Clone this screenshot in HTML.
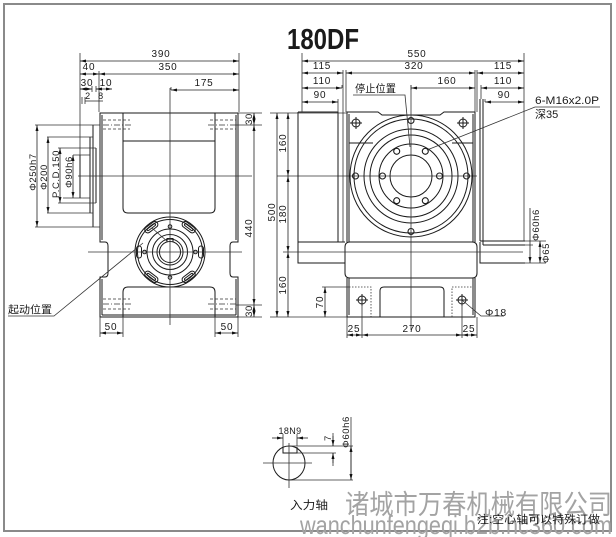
<!DOCTYPE html>
<html><head><meta charset="utf-8"><style>
html,body{margin:0;padding:0;background:#fff;}
svg{display:block;}
text{font-family:"Liberation Sans","Noto Sans CJK SC",sans-serif;fill:#1a1a1a;}
.t{font-size:10px;letter-spacing:0.8px;text-anchor:middle;}
.r{font-size:9.5px;letter-spacing:0.6px;text-anchor:middle;}
</style></head><body>
<svg width="616" height="537" viewBox="0 0 616 537" xmlns="http://www.w3.org/2000/svg">
<defs>
<marker id="e" markerWidth="6" markerHeight="3" refX="6" refY="1.5" orient="auto" markerUnits="userSpaceOnUse"><path d="M0,0L6,1.5L0,3z" fill="#111"/></marker>
<marker id="s" markerWidth="6" markerHeight="3" refX="0" refY="1.5" orient="auto" markerUnits="userSpaceOnUse"><path d="M6,0L0,1.5L6,3z" fill="#111"/></marker>
</defs>
<rect x="4" y="4" width="607" height="527" fill="none" stroke="#8a8a8a" stroke-width="2"/>
<text x="323" y="49" font-size="29" font-weight="bold" text-anchor="middle" textLength="72" lengthAdjust="spacingAndGlyphs">180DF</text>

<!-- ============ LEFT VIEW ============ -->
<g fill="none" stroke="#1a1a1a" stroke-width="1">
  <path d="M100,113 H238 V242 H233 Q230,242 230,246 V273 Q230,277 233,277 H238 V317 H100 V277 H105 Q108,277 108,273 V246 Q108,242 105,242 H100 Z"/>
  <path d="M102,115 V240 M236,115 V240 M102,279 V315 M236,279 V315 M102,315 H236"/>
  <path d="M123,113 V208 Q123,213 128,213 H210 Q215,213 215,208 V113 M123,141 H215"/>
  <path d="M123,317 V292 Q123,287 128,287 H210 Q215,287 215,292 V317"/>
  <path d="M80,155 V198 M90,137 V213 M93,125 V227 M96,148 V203"/>
  <circle cx="170" cy="252" r="35"/>
  <circle cx="170" cy="252" r="32.5"/>
  <circle cx="170" cy="252" r="23"/>
  <circle cx="170" cy="252" r="17.5"/>
  <circle cx="170" cy="252" r="13"/>
  <circle cx="170" cy="252" r="10.5"/>
  <path d="M167,242 V238.5 H173 V242"/>
  <g transform="translate(151.3,227.2) rotate(-37)"><rect x="-7.5" y="-3" width="15" height="6" rx="3"/><rect x="-5" y="-1" width="10" height="2" rx="1"/></g>
  <g transform="translate(188.7,227.2) rotate(37)"><rect x="-7.5" y="-3" width="15" height="6" rx="3"/><rect x="-5" y="-1" width="10" height="2" rx="1"/></g>
  <g transform="translate(151.3,276.8) rotate(37)"><rect x="-7.5" y="-3" width="15" height="6" rx="3"/><rect x="-5" y="-1" width="10" height="2" rx="1"/></g>
  <g transform="translate(188.7,276.8) rotate(-37)"><rect x="-7.5" y="-3" width="15" height="6" rx="3"/><rect x="-5" y="-1" width="10" height="2" rx="1"/></g>
  <rect x="136.5" y="246" width="5" height="12" rx="2.5"/>
  <rect x="198.5" y="246" width="5" height="12" rx="2.5"/>
  <circle cx="170" cy="226.5" r="1.8"/>
  <circle cx="170" cy="277.5" r="1.8"/>
  <circle cx="144.5" cy="252" r="1.8"/>
  <circle cx="195.5" cy="252" r="1.8"/>
</g>
<g fill="none" stroke="#333" stroke-width="0.8">
  <path d="M152,228 L168,242"/>
  <g stroke-dasharray="3,2">
    <path d="M103,120 H130 M103,129 H130 M210,120 H236 M210,129 H236"/>
    <path d="M103,299 H130 M103,309 H130 M210,299 H236 M210,309 H236"/>
  </g>
  <path d="M103,125 H132 M208,125 H236 M103,304 H132 M208,304 H236" stroke-dasharray="6,2,1,2"/>
  <path d="M170,88 V325 M88,252 H242 M78,176 H252 M277,176 H477"/>
  <path d="M80,53 V155 M239,53 V112 M99,71 V112 M171,87 V90"/>
  <path d="M35,125 H100 M47,137 H93 M58,148 H96 M73,155 H90"/>
  <path d="M35,227 H100 M47,213 H93 M58,203 H96 M63,198 H90"/>
  <path d="M238,113 H262 M236,125 H262 M236,305 H262 M238,317 H262"/>
  <path d="M100,317 V337 M123,317 V337 M215,317 V337 M238,317 V337"/>
  <path d="M82,97 V104 M85,97 V104 M92,86 V92 M96,86 V92"/>
  <path d="M8,316 H54 L143,243"/>
</g>
<g fill="none" stroke="#222" stroke-width="0.8" style="marker-start:url(#s);marker-end:url(#e)">
  <line x1="80" y1="61" x2="239" y2="61"/>
  <line x1="99" y1="74" x2="239" y2="74"/>
  <line x1="80" y1="74" x2="99" y2="74"/>
  <line x1="80" y1="89" x2="92" y2="89"/>
  <line x1="96" y1="89" x2="112" y2="89"/>
  <line x1="171" y1="90" x2="239" y2="90"/>
  <line x1="37" y1="125" x2="37" y2="227"/>
  <line x1="48" y1="137" x2="48" y2="213"/>
  <line x1="60" y1="148" x2="60" y2="203"/>
  <line x1="73" y1="155" x2="73" y2="198"/>
  <line x1="254" y1="113" x2="254" y2="125"/>
  <line x1="254" y1="125" x2="254" y2="305"/>
  <line x1="254" y1="305" x2="254" y2="317"/>
  <line x1="100" y1="333" x2="123" y2="333"/>
  <line x1="215" y1="333" x2="238" y2="333"/>
</g>
<path d="M85,101 H103" stroke="#222" stroke-width="0.8"/>
<text class="t" x="161" y="57">390</text>
<text class="t" x="89" y="70">40</text>
<text class="t" x="168" y="70">350</text>
<text class="t" x="87" y="86">30</text>
<text class="t" x="106" y="86">10</text>
<text class="t" x="204" y="86">175</text>
<text class="t" x="88" y="99" style="font-size:9px">2</text>
<text class="t" x="101" y="99" style="font-size:9px">8</text>
<text class="r" transform="translate(36,172) rotate(-90)">Φ250h7</text>
<text class="r" transform="translate(47,177) rotate(-90)">Φ200</text>
<text class="r" transform="translate(59,174) rotate(-90)">P.C.D.150</text>
<text class="r" transform="translate(72,172) rotate(-90)">Φ90h6</text>
<text class="r" transform="translate(252,119) rotate(-90)">30</text>
<text class="t" transform="translate(252,228) rotate(-90)">440</text>
<text class="r" transform="translate(252,311) rotate(-90)">30</text>
<text class="t" x="111" y="330">50</text>
<text class="t" x="227" y="330">50</text>
<text x="8" y="313" font-size="10.5" textLength="44" lengthAdjust="spacingAndGlyphs">起动位置</text>

<!-- ============ RIGHT VIEW ============ -->
<g fill="none" stroke="#1a1a1a" stroke-width="1">
  <path d="M298,112 H338 V242 M298,112 V263 H345 M298,242 H345"/>
  <path d="M480,242 V263 H525 M480,241 H525 M483,245 H525 M480,99 V241 M483,99 V245"/>
  <path d="M347,242 V112 H378 L382,115 H440 L444,112 H475 V242"/>
  <path d="M349,114 V242 M473,114 V242"/>
  <path d="M349,143 H373 M452,143 H473"/>
  <path d="M350,242 H472 Q477,242 477,247 V273 Q477,278 472,278 H350 Q345,278 345,273 V247 Q345,242 350,242 Z"/>
  <path d="M347,278 V317 H475 V278 M349,278 V315 M473,278 V315"/>
  <path d="M380,317 V291 Q380,287 384,287 H440 Q444,287 444,291 V317"/>
  <circle cx="411" cy="176" r="61"/>
  <circle cx="411" cy="176" r="57"/>
  <circle cx="411" cy="176" r="47"/>
  <circle cx="411" cy="176" r="41"/>
  <circle cx="411" cy="176" r="32"/>
  <circle cx="411" cy="176" r="21"/>
  <g stroke-width="1.1">
    <circle cx="411" cy="120.5" r="3"/>
    <circle cx="411" cy="231.5" r="3"/>
    <circle cx="355.5" cy="176" r="3"/>
    <circle cx="466.5" cy="176" r="3"/>
    <circle cx="439.5" cy="176" r="3"/>
    <circle cx="382.5" cy="176" r="3"/>
    <circle cx="425.3" cy="151.3" r="3"/>
    <circle cx="396.7" cy="151.3" r="3"/>
    <circle cx="425.3" cy="200.7" r="3"/>
    <circle cx="396.7" cy="200.7" r="3"/>
  </g>
  <circle cx="356" cy="123" r="4"/><path d="M350,123 H362 M356,117 V129"/>
  <circle cx="463" cy="123" r="4"/><path d="M457,123 H469 M463,117 V129"/>
  <circle cx="362" cy="300" r="4"/><path d="M356,300 H368 M362,294 V306"/>
  <circle cx="462" cy="300" r="4"/><path d="M456,300 H468 M462,294 V306"/>
</g>
<g fill="none" stroke="#333" stroke-width="0.8">
  <path d="M349,287 H371 V317 M452,317 V287 H473" stroke-dasharray="1.5,1.5"/>
  <path d="M411,85 V330 M283,252 H523"/>
  <path d="M302,53 V112 M524,53 V241 M343,70 V242 M346,70 V112 M477,70 V112 M342,85 V88 M481,85 V99 M338,99 V112 M485,99 V102 M411,85 V90 M475,70 V112"/>
  <path d="M270,113 H347 M270,317 H347 M322,287 H349"/>
  <path d="M347,317 V338 M362,304 V338 M462,304 V338 M477,317 V338"/>
  <path d="M525,241 H546 M525,263 H546 M525,245 H533"/>
  <path d="M353,95 H405 L410,147"/>
  <path d="M600,107 H535 L427,150"/>
  <path d="M462,300 L481,316 H504"/>
</g>
<g fill="none" stroke="#222" stroke-width="0.8" style="marker-start:url(#s);marker-end:url(#e)">
  <line x1="302" y1="61" x2="524" y2="61"/>
  <line x1="302" y1="73" x2="343" y2="73"/>
  <line x1="346" y1="73" x2="475" y2="73"/>
  <line x1="477" y1="73" x2="524" y2="73"/>
  <line x1="302" y1="88" x2="342" y2="88"/>
  <line x1="411" y1="88" x2="475" y2="88"/>
  <line x1="481" y1="88" x2="524" y2="88"/>
  <line x1="302" y1="102" x2="338" y2="102"/>
  <line x1="485" y1="102" x2="524" y2="102"/>
  <line x1="277" y1="113" x2="277" y2="317"/>
  <line x1="288" y1="113" x2="288" y2="176"/>
  <line x1="288" y1="176" x2="288" y2="252"/>
  <line x1="288" y1="252" x2="288" y2="317"/>
  <line x1="325" y1="287" x2="325" y2="317"/>
  <line x1="347" y1="335" x2="362" y2="335"/>
  <line x1="362" y1="335" x2="462" y2="335"/>
  <line x1="462" y1="335" x2="477" y2="335"/>
  <line x1="540" y1="241" x2="540" y2="263"/>
</g>
<line x1="530" y1="208" x2="530" y2="263" stroke="#222" stroke-width="0.8" marker-end="url(#e)"/>
<text class="t" x="417" y="57">550</text>
<text class="t" x="322" y="69">115</text>
<text class="t" x="414" y="69">320</text>
<text class="t" x="503" y="69">115</text>
<text class="t" x="322" y="84">110</text>
<text class="t" x="447" y="84">160</text>
<text class="t" x="503" y="84">110</text>
<text class="t" x="320" y="98">90</text>
<text class="t" x="504" y="98">90</text>
<text x="355" y="92" font-size="10.5" textLength="41" lengthAdjust="spacingAndGlyphs">停止位置</text>
<text x="535" y="104" font-size="11" textLength="64" lengthAdjust="spacingAndGlyphs">6-M16x2.0P</text>
<text x="535" y="118" font-size="11">深35</text>
<text class="t" transform="translate(275,212) rotate(-90)">500</text>
<text class="t" transform="translate(286,143) rotate(-90)">160</text>
<text class="t" transform="translate(286,214) rotate(-90)">180</text>
<text class="t" transform="translate(286,285) rotate(-90)">160</text>
<text class="t" transform="translate(323,302) rotate(-90)">70</text>
<text class="t" x="354" y="332">25</text>
<text class="t" x="412" y="332">270</text>
<text class="t" x="469" y="332">25</text>
<text x="485" y="316" font-size="10.5" letter-spacing="0.6">Φ18</text>
<text class="r" transform="translate(539,225) rotate(-90)">Φ60h6</text>
<text class="r" transform="translate(549,253) rotate(-90)">Φ65</text>

<!-- ============ INPUT SHAFT ============ -->
<g fill="none" stroke="#1a1a1a" stroke-width="1">
  <ellipse cx="289" cy="463" rx="16" ry="17"/>
  <path d="M283,447 V453 H297 V447"/>
</g>
<g fill="none" stroke="#333" stroke-width="0.8">
  <path d="M263,463 H312 M289,443 V488"/>
  <path d="M283,434 V447 M297,434 V446"/>
  <path d="M289,446 H353 M297,453 H336 M289,480 H353"/>
  <path d="M333,433 V446 M333,453 V466"/>
  <path d="M351,417 V480"/>
</g>
<g stroke="#222" stroke-width="0.8">
  <line x1="272" y1="438" x2="283" y2="438" marker-end="url(#e)"/>
  <line x1="308" y1="438" x2="297" y2="438" marker-end="url(#e)"/>
  <line x1="333" y1="436" x2="333" y2="446" marker-end="url(#e)"/>
  <line x1="333" y1="463" x2="333" y2="453" marker-end="url(#e)"/>
  <line x1="351" y1="446" x2="351" y2="480" marker-start="url(#s)" marker-end="url(#e)"/>
</g>
<text x="290" y="434" font-size="9" text-anchor="middle" letter-spacing="0.4">18N9</text>
<text class="r" transform="translate(331,438) rotate(-90)">7</text>
<text class="r" transform="translate(349,432) rotate(-90)">Φ60h6</text>
<text x="309" y="509" font-size="11.5" text-anchor="middle" textLength="38" lengthAdjust="spacingAndGlyphs">入力轴</text>

<!-- ============ WATERMARK / NOTES ============ -->
<text x="345" y="514" font-size="27" style="fill:#a3a3a3" textLength="267" lengthAdjust="spacingAndGlyphs">诸城市万春机械有限公司</text>
<text x="300" y="534" font-size="26" style="fill:#a3a3a3" textLength="312" lengthAdjust="spacingAndGlyphs">wanchunfengeqi.b2b.hc360.com</text>
<text x="477" y="523" font-size="11" textLength="123" lengthAdjust="spacingAndGlyphs">注:空心轴可以特殊订做</text>
</svg>
</body></html>
